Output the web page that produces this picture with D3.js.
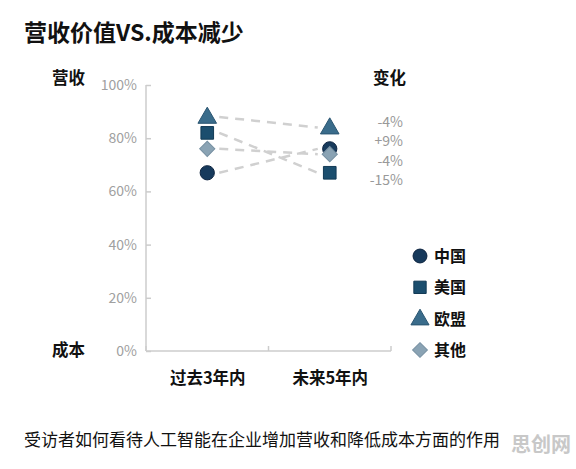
<!DOCTYPE html>
<html><head><meta charset="utf-8">
<script src="https://cdn.jsdelivr.net/npm/d3@7"></script>
<style>body{margin:0;background:#fff;} text{font-family:"Noto Sans CJK SC","Noto Sans",sans-serif;}</style>
</head><body>
<svg id="c" width="576" height="469"></svg>
<script>
const periods = ["过去3年内", "未来5年内"];
const seriesNames = ["中国", "美国", "欧盟", "其他"];
const pastValues = [67, 82, 88, 76];
const futureValues = [76, 67, 84, 74];
const changeLabels = ["-4%", "+9%", "-4%", "-15%"];
const yTicks = [0, 20, 40, 60, 80, 100];

const shapes = [d3.symbolCircle, d3.symbolSquare, d3.symbolTriangle, d3.symbolSquare];
const sizes = [160, 160, 150, 115];
const rotations = [0, 0, 0, 45];
const fills = ["#173a5c", "#1b4e6e", "#3a6c8b", "#8aa3b4"];
const strokes = ["#0d2440", "#123a55", "#2a5571", "#7790a2"];

const svg = d3.select("#c");
const y = d3.scaleLinear().domain([0, 100]).range([351, 85]);
const x = d3.scalePoint().domain(periods).range([146, 391]).padding(0.5);

// title
svg.append("text").attr("x", 24).attr("y", 41).attr("font-size", 23).attr("font-weight", "bold").attr("fill", "#111").text("营收价值VS.成本减少");

// y axis
const yAxis = d3.axisLeft(y).tickValues(yTicks).tickFormat(d => d + "%").tickSize(-5).tickPadding(9);
const ga = svg.append("g").attr("transform", "translate(146,0)").call(yAxis);
ga.select(".domain").attr("stroke", "#ccc").attr("stroke-width", 1.5).attr("d", "M0,85V351");
ga.selectAll(".tick line").attr("stroke", "#ccc").attr("stroke-width", 1.5);
ga.selectAll(".tick text").attr("fill", "#a0a0a0").attr("font-size", 14).attr("font-family", "Roboto,'Noto Sans',sans-serif");

// x axis
const xAxis = d3.axisBottom(x).tickSize(0).tickPadding(21);
const gx = svg.append("g").attr("transform", "translate(0,351)").call(xAxis);
gx.select(".domain").attr("stroke", "#ccc").attr("stroke-width", 1.5).attr("d", "M146,0H391");
gx.selectAll(".tick text").attr("fill", "#111").attr("font-size", 16.5).attr("font-weight", "bold").attr("font-family", "'Noto Sans CJK SC',sans-serif");
[146, 268.5, 391].forEach(px => gx.append("line").attr("x1", px).attr("x2", px).attr("y1", 0).attr("y2", -5).attr("stroke", "#ccc").attr("stroke-width", 1.5));

// side labels
svg.append("text").attr("x", 52).attr("y", 84).attr("font-size", 16.5).attr("font-weight", "bold").attr("fill", "#111").text("营收");
svg.append("text").attr("x", 52).attr("y", 356).attr("font-size", 16.5).attr("font-weight", "bold").attr("fill", "#111").text("成本");
svg.append("text").attr("x", 373).attr("y", 84).attr("font-size", 16.5).attr("font-weight", "bold").attr("fill", "#111").text("变化");

// dashed connectors
seriesNames.forEach((s, i) => {
  svg.append("line")
    .attr("x1", x(periods[0]) + 12).attr("y1", y(pastValues[i]))
    .attr("x2", x(periods[1]) - 12).attr("y2", y(futureValues[i]))
    .attr("stroke", "#d0d0d0").attr("stroke-width", 2.5).attr("stroke-dasharray", "9,7");
});

// markers
const sym = (i, k) => d3.symbol().type(shapes[i]).size(sizes[i] * (k || 1))();
seriesNames.forEach((s, i) => {
  [pastValues[i], futureValues[i]].forEach((v, j) => {
    svg.append("path").attr("d", sym(i))
      .attr("transform", `translate(${x(periods[j])},${y(v) + (i === 2 ? 1 : 0)}) rotate(${rotations[i]})`)
      .attr("fill", fills[i]).attr("stroke", strokes[i]).attr("stroke-width", 1);
  });
});

// change labels
const changeY = d3.scalePoint().domain(d3.range(changeLabels.length)).range([122, 180]);
changeLabels.forEach((t, k) => {
  svg.append("text").attr("x", 403).attr("y", changeY(k) + 5).attr("text-anchor", "end")
    .attr("font-size", 14).attr("fill", "#999").attr("font-family", "Roboto,'Liberation Sans',sans-serif").text(t);
});

// legend
const legY = d3.scalePoint().domain(seriesNames).range([256, 350]);
seriesNames.forEach((s, i) => {
  svg.append("path").attr("d", sym(i, 0.95))
    .attr("transform", `translate(420,${legY(s) + (i === 2 ? 1 : 0)}) rotate(${rotations[i]})`)
    .attr("fill", fills[i]).attr("stroke", strokes[i]).attr("stroke-width", 1);
  svg.append("text").attr("x", 434).attr("y", legY(s) + 6).attr("font-size", 16).attr("font-weight", "bold").attr("fill", "#111").text(s);
});

// footer
svg.append("text").attr("x", 24).attr("y", 446).attr("font-size", 17).attr("fill", "#111").text("受访者如何看待人工智能在企业增加营收和降低成本方面的作用");
svg.append("text").attr("x", 511).attr("y", 452).attr("font-size", 20).attr("font-weight", "bold").attr("fill", "#c8c8c8").text("思创网");
</script>
</body></html>
